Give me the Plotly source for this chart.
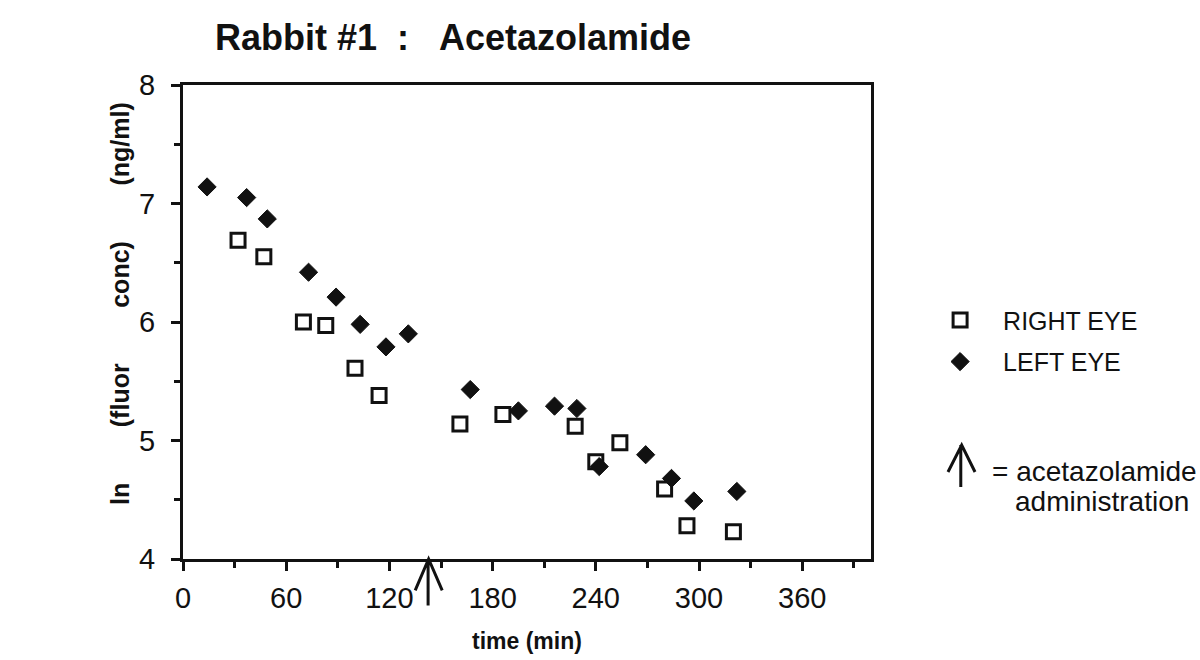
import plotly.graph_objects as go

# ---- data ----
right_time = [32, 47, 70, 83, 100, 114, 161, 186, 228, 240, 254, 280, 293, 320]
right_ln = [6.69, 6.55, 6.00, 5.97, 5.61, 5.38, 5.14, 5.22, 5.12, 4.82, 4.98, 4.59, 4.28, 4.23]

left_time = [14, 37, 49, 73, 89, 103, 118, 131, 167, 195, 216, 229, 242, 269, 284, 297, 322]
left_ln = [7.14, 7.05, 6.87, 6.42, 6.21, 5.98, 5.79, 5.90, 5.43, 5.25, 5.29, 5.27, 4.78, 4.88, 4.68, 4.49, 4.57]

x_ticks = [0, 60, 120, 180, 240, 300, 360]
y_ticks = [4, 5, 6, 7, 8]
admin_time = 142.5  # acetazolamide administration

FONT = "Liberation Sans, Arial, Helvetica, sans-serif"
INK = "#111111"
NB = "\u00a0"

fig = go.Figure()
fig.add_trace(go.Scatter(
    x=right_time, y=right_ln, mode="markers", name="RIGHT EYE",
    legendgroup="r",
    marker=dict(symbol="square-open", size=14, color=INK, line=dict(width=3, color=INK)),
))
fig.add_trace(go.Scatter(
    x=left_time, y=left_ln, mode="markers", name="LEFT EYE",
    legendgroup="l",
    marker=dict(symbol="diamond", size=14, color=INK, line=dict(width=1, color=INK)),
))

axis_common = dict(
    showline=True, linewidth=3, linecolor=INK, mirror=True,
    ticks="outside", ticklen=9, tickwidth=3, tickcolor=INK,
    showgrid=False, zeroline=False,
    tickfont=dict(family=FONT, size=29, color=INK),
)

fig.update_xaxes(
    range=[0, 400], tickvals=x_ticks, ticktext=[str(v) for v in x_ticks],
    minor=dict(tickvals=[30, 90, 150, 210, 270, 330, 390], ticklen=6, tickwidth=3,
               tickcolor=INK, ticks="outside"),
    ticklabelstandoff=2,
    **axis_common,
)
fig.update_yaxes(
    range=[4, 8], tickvals=y_ticks, ticktext=[str(v) for v in y_ticks],
    minor=dict(tickvals=[4.5, 5.5, 6.5, 7.5], ticklen=6, tickwidth=3,
               tickcolor=INK, ticks="outside"),
    ticklabelstandoff=10,
    **axis_common,
)

# axis titles as annotations
fig.add_annotation(
    xref="paper", yref="paper", x=(120 - 183) / 688, y=(559 - 304) / 474,
    xanchor="center", yanchor="middle", textangle=-90, showarrow=False,
    text="<b>ln" + NB * 8 + "(fluor" + NB * 8 + "conc)" + NB * 8 + "(ng/ml)</b>",
    font=dict(family=FONT, size=25, color=INK),
)
fig.add_annotation(
    xref="paper", yref="paper", x=(527 - 183) / 688, y=(559 - 641) / 474,
    xanchor="center", yanchor="middle", showarrow=False,
    text="<b>time (min)</b>",
    font=dict(family=FONT, size=23, color=INK),
)

# administration arrow on the time axis
fig.add_shape(
    type="path", xref="x", yref="paper",
    path=f"M {admin_time - 7.5},-0.066 L {admin_time + 0.3},0 L {admin_time + 8.2},-0.066 "
         f"M {admin_time},0 L {admin_time},-0.098",
    line=dict(color=INK, width=3),
)

# legend arrow and explanation
fig.add_shape(
    type="path", xref="paper", yref="paper",
    path="M 1.1119,0.1835 L 1.1318,0.2405 L 1.1512,0.1835 M 1.1305,0.2405 L 1.1305,0.152",
    line=dict(color=INK, width=3),
)
fig.add_annotation(
    xref="paper", yref="paper", x=1.1725, y=0.1842, xanchor="left", yanchor="middle",
    text="= acetazolamide", showarrow=False,
    font=dict(family=FONT, size=28, color=INK),
)
fig.add_annotation(
    xref="paper", yref="paper", x=1.2063, y=0.1209, xanchor="left", yanchor="middle",
    text="administration", showarrow=False,
    font=dict(family=FONT, size=28, color=INK),
)

fig.update_layout(
    width=1200, height=660,
    margin=dict(l=183, r=329, t=85, b=101, autoexpand=False),
    paper_bgcolor="white", plot_bgcolor="white",
    title=dict(text="<b>Rabbit" + NB + "#1" + NB * 2 + ":" + NB * 3 + "Acetazolamide</b>",
               font=dict(family=FONT, size=36, color=INK),
               x=215 / 1200, xanchor="left", y=1 - 37 / 660, yanchor="middle"),
    showlegend=True,
    legend=dict(
        x=1.067, y=0.552, xanchor="left", yanchor="top",
        font=dict(family=FONT, size=25, color=INK),
        itemwidth=76, tracegroupgap=6, bgcolor="rgba(0,0,0,0)",
    ),
)

fig.write_html("out.html")
